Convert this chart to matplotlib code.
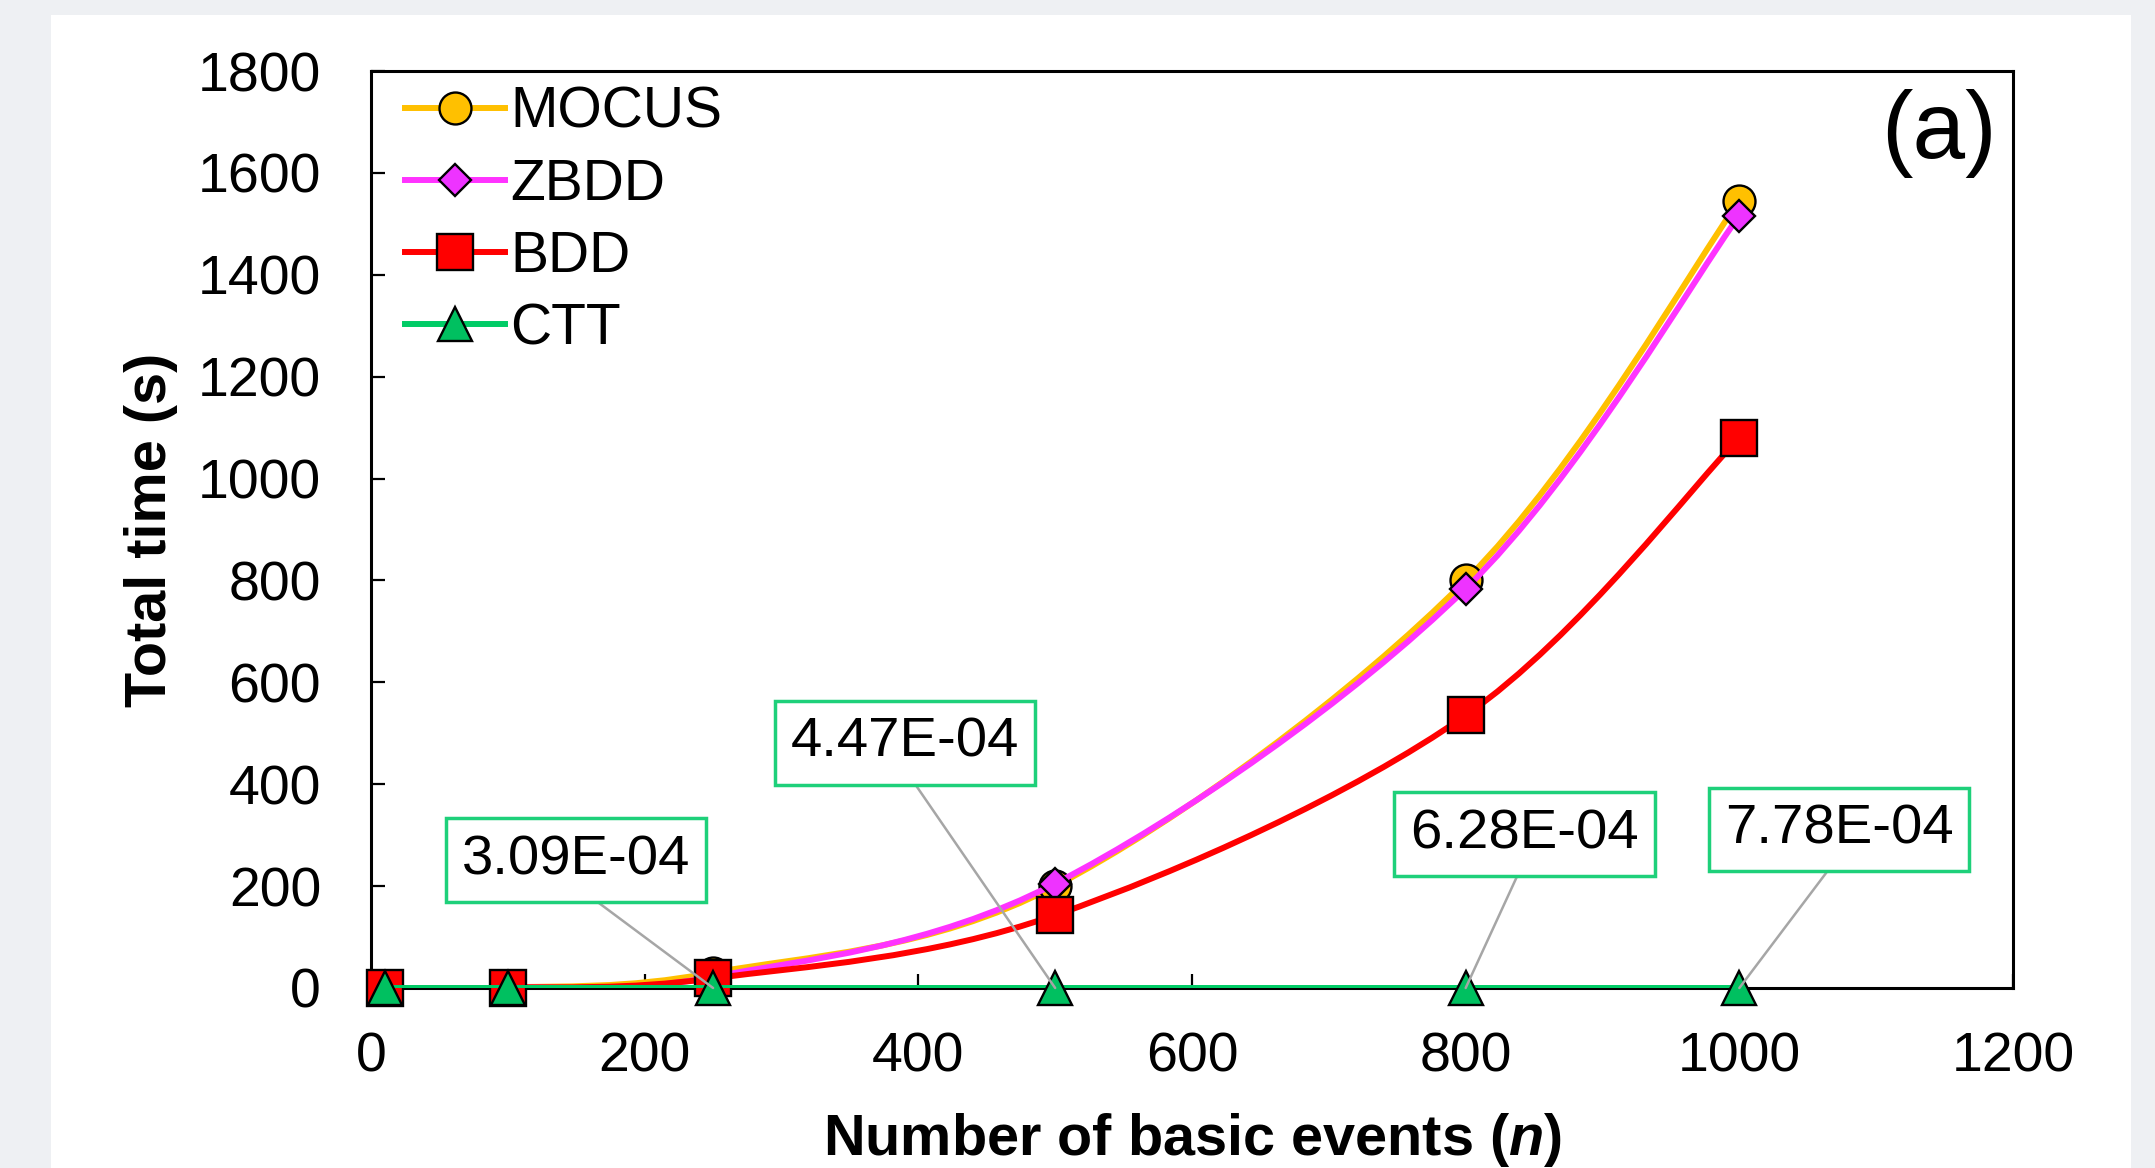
import numpy as np
import matplotlib
matplotlib.use('Agg')
import matplotlib.pyplot as plt
from matplotlib.path import Path
from matplotlib.patches import PathPatch, Rectangle
from matplotlib.lines import Line2D

plt.rcParams['font.family'] = ['Liberation Sans', 'DejaVu Sans']
plt.rcParams['mathtext.fontset'] = 'custom'
plt.rcParams['mathtext.rm'] = 'Liberation Sans:bold'
plt.rcParams['mathtext.it'] = 'Liberation Sans:italic:bold'

# data
n_events = [10, 100, 250, 500, 800, 1000]
mocus = [0.1, 0.6, 30, 200, 800, 1545]
zbdd = [0.1, 0.5, 22, 205, 784, 1516]
bdd = [0.1, 0.4, 19, 143, 535, 1080]
ctt = [1.2e-5, 1.3e-4, 3.09e-4, 4.47e-4, 6.28e-4, 7.78e-4]
ctt_labels = ['3.09E-04', '4.47E-04', '6.28E-04', '7.78E-04']
ctt_label_idx = [2, 3, 4, 5]
label_spots = [(150, 251), (390, 481), (843, 302), (1073, 311)]

series = [
    ('MOCUS', mocus, '#FFC000', '#FFC000', 'o', 23),
    ('ZBDD', zbdd, '#FF33FF', '#EE33FF', 'D', 16.5),
    ('BDD', bdd, '#FF0000', '#FF0000', 's', 26),
    ('CTT', ctt, '#00CC66', '#00C060', '^', 25),
]


def smooth_path(xs, ys):
    # Excel style smoothed line, as cubic bezier segments
    pts = np.column_stack([xs, ys]).astype(float)
    n = len(pts)
    verts = [pts[0]]
    codes = [Path.MOVETO]
    for i in range(n - 1):
        p0 = pts[i - 1] if i > 0 else pts[i]
        p1 = pts[i]
        p2 = pts[i + 1]
        p3 = pts[i + 2] if i + 2 < n else pts[i + 1]
        verts += [p1 + (p2 - p0) / 6, p2 - (p3 - p1) / 6, p2]
        codes += [Path.CURVE4] * 3
    return Path(verts, codes)


fig = plt.figure(figsize=(21.55, 11.68), dpi=100)
fig.set_facecolor('#EEF0F3')
fig.patches.append(Rectangle((51 / 2155, 0), 2080 / 2155, 1153 / 1168,
                             transform=fig.transFigure, facecolor='white',
                             edgecolor='none', zorder=-5))

ax = fig.add_axes([371 / 2155, 1 - 988 / 1168, 1642 / 2155, 917 / 1168])
ax.set_facecolor('none')

handles = []
for k, (name, vals, lc, mc, mk, ms) in enumerate(series):
    ax.add_patch(PathPatch(smooth_path(n_events, vals), fill=False, edgecolor=lc,
                           lw=4.3, zorder=3 + 2 * k, capstyle='round'))
    ax.plot(n_events, vals, linestyle='none', marker=mk, markersize=ms,
            markerfacecolor=mc, markeredgecolor='black', markeredgewidth=1.7,
            zorder=4 + 2 * k, clip_on=False)
    handles.append(Line2D([], [], color=lc, lw=4.3, marker=mk, markersize=ms,
                          markerfacecolor=mc, markeredgecolor='black',
                          markeredgewidth=1.7))

for lab, i, spot in zip(ctt_labels, ctt_label_idx, label_spots):
    ax.annotate(lab, xy=(n_events[i], ctt[i]), xytext=spot, textcoords='data',
                ha='center', va='center', fontsize=40.5, zorder=20,
                bbox=dict(boxstyle='square,pad=0.28', facecolor='white',
                          edgecolor='#1ED07A', lw=2.5),
                arrowprops=dict(arrowstyle='-', color='#A6A6A6', lw=1.8,
                                relpos=(0.5, 0), shrinkA=0, shrinkB=0))

ax.set_xlim(0, 1200)
ax.set_ylim(0, 1800)
ax.set_xticks(np.arange(0, 1201, 200))
ax.set_yticks(np.arange(0, 1801, 200))
ax.tick_params(axis='both', direction='in', length=10, width=1.6,
               labelsize=40, colors='black')
ax.tick_params(axis='y', pad=36)
ax.tick_params(axis='x', pad=31)
for sp in ax.spines.values():
    sp.set_linewidth(2.2)
    sp.set_color('black')

ax.set_xlabel(r'Number of basic events ($\mathit{n}$)', fontsize=41.5, fontweight='bold')
ax.set_ylabel('Total time (s)', fontsize=41.5, fontweight='bold')
ax.xaxis.label.set_va('center')
ax.yaxis.label.set_va('center')
ax.xaxis.set_label_coords(0.5, -0.166)
ax.yaxis.set_label_coords(-0.134, 0.5)

ax.text(0.955, 0.932, '(a)', transform=ax.transAxes, fontsize=68,
        ha='center', va='center')

ax.legend(handles, [s[0] for s in series], loc='upper left',
          bbox_to_anchor=(0.007, 1.009), frameon=False, fontsize=41,
          handlelength=1.75, handletextpad=0.1, labelspacing=0.32,
          borderaxespad=0.0)

fig.savefig('out.png', dpi=100, facecolor=fig.get_facecolor())
